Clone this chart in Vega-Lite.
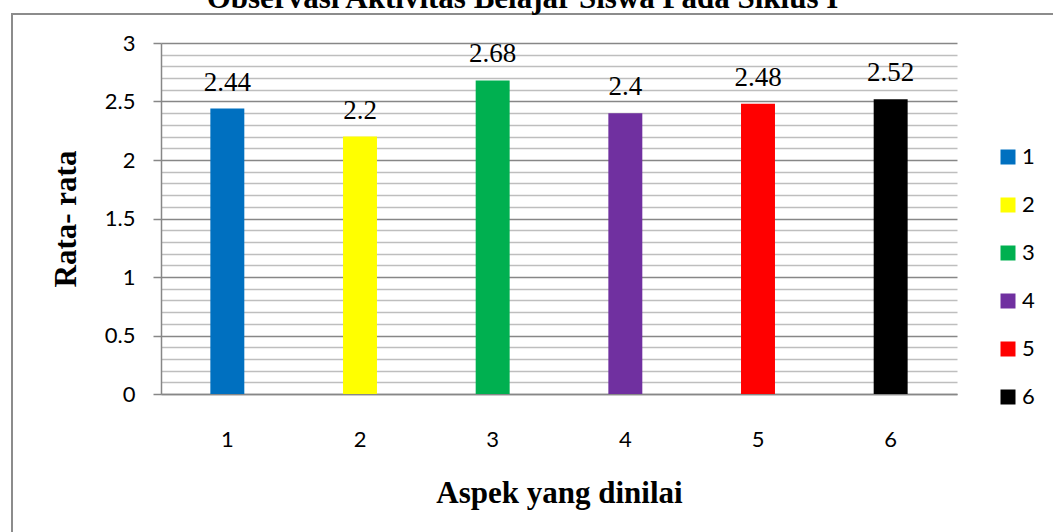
{
  "$schema": "https://vega.github.io/schema/vega-lite/v6.json",
  "autosize": {"type": "none"},
  "padding": {"left": 12, "top": 14, "right": 0, "bottom": 0},
  "width": 1045,
  "height": 530,
  "background": "white",
  "title": {
    "text": "Observasi Aktivitas Belajar Siswa Pada Siklus I",
    "font": "Liberation Serif",
    "fontSize": 31,
    "fontWeight": "bold",
    "color": "black",
    "anchor": "middle",
    "frame": "group",
    "orient": "top",
    "baseline": "alphabetic",
    "offset": 2,
    "dx": -12,
    "dy": 27
  },
  "data": {
    "values": [
      {"aspek": "1", "nilai": 2.44},
      {"aspek": "2", "nilai": 2.2},
      {"aspek": "3", "nilai": 2.68},
      {"aspek": "4", "nilai": 2.4},
      {"aspek": "5", "nilai": 2.48},
      {"aspek": "6", "nilai": 2.52}
    ]
  },
  "encoding": {
    "x": {
      "field": "aspek",
      "type": "nominal",
      "sort": null,
      "scale": {"range": [149, 945], "paddingInner": 0.744, "paddingOuter": 0.372},
      "axis": {
        "title": "Aspek yang dinilai",
        "titleFont": "Liberation Serif",
        "titleFontSize": 31,
        "titleFontWeight": "bold",
        "titleColor": "black",
        "titleX": 547,
        "titleY": 108,
        "titleAlign": "center",
        "titleBaseline": "alphabetic",
        "orient": "bottom",
        "offset": -150,
        "labelAngle": 0,
        "labelFont": "Lato",
        "labelFontSize": 22,
        "labelColor": "black",
        "labelBaseline": "alphabetic",
        "labelPadding": 52,
        "ticks": false,
        "tickSize": 0,
        "domainColor": "#878787",
        "domainWidth": 1.5,
        "grid": false
      }
    },
    "y": {
      "field": "nilai",
      "type": "quantitative",
      "scale": {"domain": [0, 3], "range": [380, 29], "nice": false, "zero": true},
      "axis": {
        "title": "Rata- rata",
        "titleFont": "Liberation Serif",
        "titleFontSize": 31,
        "titleFontWeight": "bold",
        "titleColor": "black",
        "titleAngle": 270,
        "titleX": -86,
        "titleY": 204.5,
        "titleAlign": "center",
        "titleBaseline": "alphabetic",
        "orient": "left",
        "offset": -149,
        "values": [0, 0.1, 0.2, 0.3, 0.4, 0.5, 0.6, 0.7, 0.8, 0.9, 1, 1.1, 1.2, 1.3, 1.4, 1.5, 1.6, 1.7, 1.8, 1.9, 2, 2.1, 2.2, 2.3, 2.4, 2.5, 2.6, 2.7, 2.8, 2.9, 3],
        "labelExpr": "datum.value % 0.5 === 0 ? '' + datum.value : ''",
        "labelFont": "Lato",
        "labelFontSize": 22,
        "labelColor": "black",
        "labelPadding": 18,
        "labelBaseline": "middle",
        "tickSize": 8,
        "tickColor": "#878787",
        "tickWidth": 1.5,
        "tickOpacity": {"condition": {"test": "datum.value % 0.5 === 0", "value": 1}, "value": 0},
        "domainColor": "#878787",
        "domainWidth": 1.5,
        "grid": true,
        "gridWidth": 1.5,
        "gridColor": {"condition": {"test": "datum.value % 0.5 === 0", "value": "#878787"}, "value": "#BEBEBE"}
      }
    }
  },
  "layer": [
    {
      "mark": {"type": "bar"},
      "encoding": {
        "color": {
          "field": "aspek",
          "type": "nominal",
          "scale": {
            "domain": ["1", "2", "3", "4", "5", "6"],
            "range": ["#0070C0", "#FFFF00", "#00B050", "#7030A0", "#FF0000", "#000000"]
          },
          "legend": {
            "title": null,
            "orient": "none",
            "legendX": 985,
            "legendY": 132,
            "padding": 0,
            "symbolType": "square",
            "symbolSize": 225,
            "symbolStrokeWidth": 0,
            "labelFont": "Lato",
            "labelFontSize": 22,
            "labelColor": "black",
            "labelOffset": 3,
            "rowPadding": 26
          }
        }
      }
    },
    {
      "mark": {
        "type": "text",
        "font": "Liberation Serif",
        "fontSize": 27,
        "color": "black",
        "baseline": "alphabetic",
        "align": "center",
        "dy": -18
      },
      "encoding": {
        "text": {"field": "nilai", "type": "nominal"}
      }
    }
  ],
  "config": {
    "view": {"stroke": "#8C8C8C", "strokeWidth": 2}
  }
}
